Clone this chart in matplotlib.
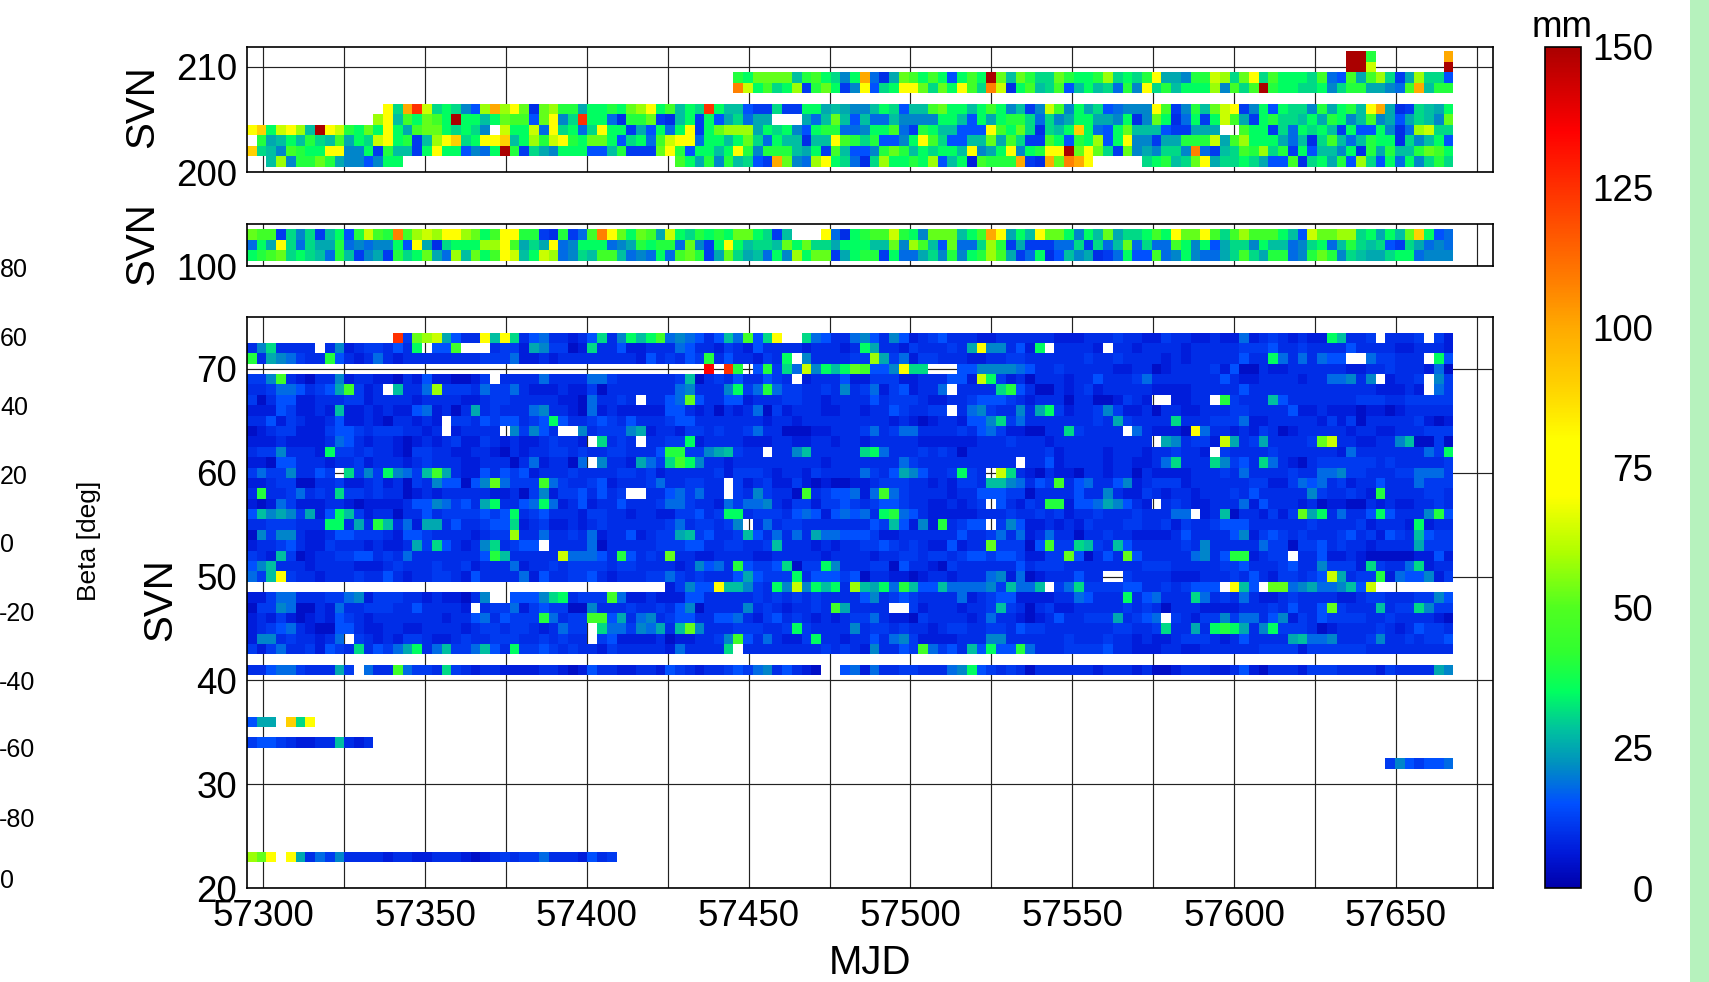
import numpy as np
import matplotlib
matplotlib.use("Agg")
import matplotlib.pyplot as plt
from matplotlib.colors import LinearSegmentedColormap
from matplotlib.patches import Rectangle

plt.rcParams['font.family'] = ['Liberation Sans', 'DejaVu Sans']

W, H = 1709, 982
N_COLS = 124
MJD_START = 57295
MJD_STEP = 3.006

# colour bar
cmap_levels = [0, 6, 15, 22, 28, 35, 42, 50, 60, 70, 80, 90, 100, 108, 125, 135, 150]
cmap_colors = ['#0000aa', '#0018d8', '#0050ff', '#0090c0', '#00c0a0', '#00ff60', '#30ff30',
               '#50ff20', '#b0ff00', '#ffff00', '#ffff00', '#ffd000', '#ffaa00', '#ff8000',
               '#ff3000', '#ff0000', '#aa0000']

# one letter per 3 day cell, value in mm, '.' = no data
code_letters = list("abcdefghijklmnopqrstuvw")
code_values = [4, 7, 9.5, 11.5, 15, 18, 21, 25, 28, 31, 35, 40, 46, 52, 58, 63, 72, 90, 100, 108, 125, 135, 150]

blank = ".......... "

svn_top = [211, 210, 209, 208, 206, 205, 204, 203, 202, 201]
rows_top = [
    blank * 11 + "...wwl.... ...s",
    blank * 11 + "...wwp.... ...w",
    blank * 5 + "lknnnnilmk jgksfchnmk mkekmkwnin ljjnlkkloj kjlqhhgllp ojnqjmkkkj mfemhmojdh ojje",
    blank * 5 + "tpkmjkodln kdgqejkqqn jnkqmjtpck mijmeikijf lgqjlikkko gmjmwlkkjj kgjllhhgfm sill",
    blank + "....qjsupj kjgeosoqnc nollhkklkn oqkmikjuki ieddjddkkh ihggikjeii mnkkikmkgi dgpmgkhjef gggqmdglin pqdgkekjjg lhkliqshcd jihk",
    blank + "...oqimknm kwkkiknmme nqgjukkfcl lndcikdkeh jfhh...hfi nieiffiggg gkkiekhkll jfjghkkhhg kcgnkcfkdk pmhdkljjik hlkgimgheh jign",
    "qrkpqoiwqp lknkqkhmnn kjkjg.pkkp fqjkfjqkkd hekfkqdkno oohkjkgekl lffgkkmfdl kiieeeqmkn jcjikrkfek niiieddhhh ..mkkdjfkj kidkeekgcf opjj",
    ".lhikiljim hkjpqkldio qrjkqqriko lpqlknnkej kfmpqqfkki knjfkiicii qmljleegkq mjeeiinhmj ddmkelkoek qggdhhlllp hmokkkhfic jmifilkkcj gike",
    "rjigmlkkqq ggkdliidkq kkegfkwldj hgkkkeeild ddnqlekkik qlglllihkd mieeglnlik jkkiqghkqg klqqwnqnjd nghgjjgtfd ijmlojldke iigkclhlii lnmk",
    "..iogllnlh ggegkk.... " + blank * 2 + "....mkhlgl ijedsngfoq kjfcjokklk oeikbmllls dcsntsq... ..jklijnqh jjkjheemcj khleojekfk gjlj",
]

svn_mid = [103, 102, 101]
rows_mid = [
    "nmmdjgjdik elpmltmopo qqonkmqqll dcldfmtqnk nmhpkjlklk nnkjdi...q fcklmmplkg nnnikmsqhk iqnnkgkinh jjkmkqnnqm jmommmkiep nnoojkhkin rkef",
    "fkhqjfjhhl fgfggkeqhc jkkkooqmhj hqfgkkkfgh lkllfngdkq kijjinknjj hkkkiingom ienffjoldh dddffjdjfi nfjffmkgke hjjgkiifgj kfiljijedj hfgf",
    "klmnjkjifl idghdljknh foinkmqpik pofgjimmif gfkfmnldhn jhifkgoknn dhklldkffh jglgklomhd fkceighcdf keemfgkgff hjmjhllfgl nlgjihhjkk fggg",
]

svn_low = [73, 72, 71, 70, 69, 68, 67, 66, 65, 64, 63, 62, 61, 60, 59, 58, 57, 56, 55, 54,
           53, 52, 51, 50, 49, 48, 47, 46, 45, 44, 43, 41, 36, 34, 32, 23]
rows_low = [
    blank + ".....udnop heccqiqjce fccbcejcgk ikmfgfecei fmejq..jfe ccfgecgebc decccbbccc cccbbbcccd ccbbdccbbc bbfbcdcbcb bkiccd.ccc d.db",
    "cgjcccc.cg bcddceck.e em...cddbh gddabjcceb bcccfeccbd cbeccccbcc cbckhccbdc ccdchqggce bk.ccccb.c cbccccbccc ccdddeccdc ccceccccbb cccb",
    "lchgfdccle cbcfcbcccc ccccdddfbb cbcccccccc becdcedlce ccbdck.gcc ccddohdfbd dcccbbccdd ccccccdccd ccccbcbccc ccecckfcfc fee..fddcc c.ke",
    blank * 4 + ".......v.u l.eldjfpgk iknmeegqjj ...eeggggf eccdcccccb bccabccccd beaacbbccc cccbbccdcc cbfa",
    "ddgmcbaccg bccbbacbeb baabd.cccc fccccffdcc ccccdiacdc eccedc.bcc cebbdddbbc cceebpkdbc acccbccecc cdfccccccc ecbbccccbc cffgcg.bcc d.gd",
    "ccdffecdeh mdbc.iccfo dddcfddfcb bbcbbdaccc ccccfgcccg kdflfddccd cgcdfbdebc cf.ccccjle caacbcdbcc cccbbbbccc cceccccccc ccccccbbbc b.fd",
    "daceebbccc ddbccccbcc ccbbcddccc ccbbafccdc .ccefnecce ebcccddccb ccccecdddc bbccdeeedc bcccaccaab dcb..bbcc. ldcccieccc ccccdddccd dddd",
    "bbbedbbcbi bbcbcbbefb cachcdcccf gccbafbcbb bbbeecbcac bcfadbcccb bccbccedcc dd.cfgdccg chkdbccdgd bbcaccbbcc cddccccebb cbbbabbabc cccc",
    "ccebdcbbce bbcbaccbcb .ddcedeecd ekeccdedce cccdeecccc cccbccbccc ccccccbcba bccbeegjdf cccccccdch dccccjcccd ddfbbccccc bdbdaccccc dbab",
    "abcddbbbde edcdddccbc .bcccc.gdg ec..gcdddg hbccbddcdc cdfccaaabb cccdfcdffc cccdcefdbb aaccjdcccc .fcbbbaqfc cbcbdcabcc cccbccbbcc cddd",
    "bbbcbbbbcf ecbccbabcb cdbbdcbcbb cdccb.jcdc .ccddkbccc cbbbccbbcc bccbcccccb bbbbbcccdc ccbccccccc ccc.hgcddb phcdhccccd npccbbccgi aada",
    "cddgcccbkd dcdccbaddc cbbccbacbc cddcdccddc ccellddghi dcc.ccgicc cccjkfcccd cdcacccccc ccdbccccbc ccbccdccb. dccccdcccc ccbfcccccc cfdk",
    "bbaeecccbc cdbcccbcdc ccbbcccacf bccaf.gccb hfdjmkgccb cccccccccb cccccccfdc ccccccccc. ccebccccbc cbbcfjcccj gdecjfcbac ddddddcdcc cccd",
    "dfddgcced. jdgdkgfdim hcbbecedeb cccdccccdd cdbcccccdb dddcbccbdc cccfdcehge ccdkdc.pjc bacbbaccbc cacbbbbccc dcfccccdcc ffgddcccdd fffd",
    "bbcddaaccd bbcdbcadcg eeaegnfddd mfdccdebcc cdfccddcc. dbcdbbdbab aabbcdddcc bcbddciigf cedmcefcce gbcdddbccc cccddbbdfe fcdbcceccc fddd",
    "clccdfcdcj ddcdccabcb cccccbbcad gbddececd. .ccefdfcc. dcgdccamcd eefbfmfdcc ccbcceeedd acccceccgc bbdcbccbcc cdcecccccg dccdcblccc cddc",
    "babfdbbbcc babbbbceeg fdechkccef kfbcebccec ccdffdccbf dffgcbddbd dedcdeedcc bbcbcd.ecb dcllbeefhg ecb.cdcbbc ccfbecccbc abbaacbcbb ccdc",
    "eighgdhbek idbccaccec ddddedekcd ecccbddccb ccbbddecdk kcdddcefeb efefcklfec bbbbbcccdc cdcdbccdcc cdcccff.bc iaccbdbdnh kcfccekecc cgle",
    "ccdddccckk chclicfbhh ceccdeejbc dbbcbcdccc cccdfcddcd g.cfcddccc ccccediebg blcdee.dge bbcbcbdccc ddccdbdccd eeeccccccd ccccdbcccb kbcc",
    "agdggcbbce edddcbeedc cccbcddocc fccdcfbcce bcddhidecc diecfcfchf feeedbbccc ccceccdfcf bcfccaccdc cbbbbceccc cegbdedcdc ccdecdbedc iedd",
    "bccdecbbdc ccbcbbchdj ecbcgjcdee .ccccfaccc ccdddeeccd dccdicccbc bccddedcdc bbebccnddd aemddjidci ecccccdcgc ccccfddadd ecdccbcccc hddd",
    "dcbidabccd deecdcfccc cccceliccc ccpfffecle cdcnccbbcc ccbbcccccb ccccbccddc ddcdeedeed bbddneacec necccccfgc ellbcdd.cc ebbcbaaaaa bbeb",
    "egicccbccc cbbbcdcccd ccdbcccfbc cdcddddcdd ccccbcgefc leddejaddk gcccddaecc badcccccce cdddcccccc ccdddccccc ddecccdecc gdddbjdccf jbcc",
    "fdiqdccbcc cdccecbccd dcbeccccfb eccddecbcc cddfdcdccc ehedddkcee edeaccbbab ccbcccfgbf abcccecc.. dccccbbbcc cdcecbddcd ephcddlbfe egbd",
    blank * 4 + "...bdgeeqi igdckgpgki kcoihkflie eiffffgdif fi.dfjdddd eeccdcdeee .qie.nnfgh ffgiep.... ....",
    "bbdffcccdd fgbdddccbc bbacg..eee gjkcdddmfb bcbbbeeccc ccdcdcdcdc cccegcdedc cccfbcdeeb bbbccfeccc kcefcccjfc dcfcbbcdcc ccbbcddccc ddge",
    "addgfaacbf ccdddccecc ccb.cddfbd eddaagcccd ccdcegaccc cgcdcbccdc mhcccc..db cccbccdidc acdbbccccc dcdcacccbb bbcccdcecc endcccicdd jgdd",
    "bcbdbabcbe dcbccccccc bccefceddd lfcddmmehc fgcdeeccee fcbdecdcbc bcddfcbbad ccccbcfccb abceccdddh cdef.dcbdd gdffcegbdc eddddccdcc ccba",
    "bcdefcbaae ecbbccbbcc ccbcddcddc bcfdd.jffd gfhcingccc dddccdkdcc ccgcddcdcc bcddccddce ddcccccccd dccdjcchck lkhcgkdddc abccccdcbc eddc",
    "bggcdccbcf .dcbcbddcb bcdccdddcc dcdcc.debb bbcabbccdg mecfcbbdkc cbccecfgdb bbbcccggcc ccccdcccdc cbcbbcdddc bcecccchif fgcccdgccd cdde",
    "dbdfccdbed cjcedfhkcf iddfieckdd edcdccbdcc cccbfccccj .ccccccccd cdcbgccedm fdeciekeel fcccddddec cbbbccbbcc ccccddddbd dddddccccc cccc",
    "cceffdccch d.fccmfddc jdcbccbbbb ccbabeccbb ccbedcbccd edfgcecba. .efbfccddc ccfgkedcdc accccccbcc cbcaabcccb bcebacccbd ddccccbdcc cchg",
    "ehh.rjq...",
    "deedcbbcci cbc.......",
    blank * 11 + ".......dge deef",
    "onq.qhcfdg ccccbccbbc ccbabcdcdd fcccbecd..",
]

x_ticks = list(range(57300, 57676, 25))
x_labels = [str(t) if (t - 57300) % 50 == 0 else '' for t in x_ticks]
colorbar_ticks = [0, 25, 50, 75, 100, 125, 150]

# stray tick labels of a cut off panel at the left edge, y in pixels
beta_labels = ['80', '60', '40', '20', '0', '-20', '-40', '-60', '-80', '0']
beta_y = [270, 339, 408, 477, 545, 614, 683, 750, 820, 881]


def decode(row):
    out = []
    for group in row.split():
        group = group.ljust(10, group[-1])[:10]
        out.extend(group)
    out = (out + ['.'] * N_COLS)[:N_COLS]
    lookup = dict(zip(code_letters, code_values))
    return [lookup.get(c, np.nan) for c in out]


def make_grid(svns, rows):
    lo, hi = min(svns), max(svns)
    grid = np.full((hi - lo + 1, N_COLS), np.nan)
    for s, r in zip(svns, rows):
        grid[s - lo] = decode(r)
    return np.arange(lo - 0.5, hi + 1), grid


def px_axes(left, top, right, bottom):
    return fig.add_axes([left / W, 1 - bottom / H, (right - left) / W, (bottom - top) / H])


cmap = LinearSegmentedColormap.from_list('svn', [(v / 150, c) for v, c in zip(cmap_levels, cmap_colors)], N=512)
x_edges = MJD_START + MJD_STEP * np.arange(N_COLS + 1)

fig = plt.figure(figsize=(W / 100, H / 100), dpi=100)

panels = [
    (px_axes(247, 47, 1493, 172), svn_top, rows_top, (200, 211.9), [200, 210]),
    (px_axes(247, 224, 1493, 266), svn_mid, rows_mid, (100, 104), [100]),
    (px_axes(247, 317, 1493, 888), svn_low, rows_low, (20, 75.0), [20, 30, 40, 50, 60, 70]),
]

for ax, svns, rows, ylim, yticks in panels:
    y_edges, grid = make_grid(svns, rows)
    mesh = ax.pcolormesh(x_edges, y_edges, np.ma.masked_invalid(grid), cmap=cmap, vmin=0, vmax=150,
                         shading='flat', antialiased=False, zorder=2)
    ax.set_xlim(57295, 57680)
    ax.set_ylim(*ylim)
    ax.set_yticks(yticks)
    ax.set_xticks(x_ticks)
    ax.set_xticklabels(x_labels)
    ax.grid(True, color='#222222', lw=0.85, zorder=1)
    ax.set_axisbelow(True)
    ax.tick_params(length=0, labelsize=26.5, pad=7)
    ax.tick_params(axis='x', pad=8)
    for s in ax.spines.values():
        s.set_linewidth(1.2)
        s.set_zorder(5)

panels[0][0].tick_params(labelbottom=False)
panels[1][0].tick_params(labelbottom=False)

fig.text(142 / W, 1 - 107 / H, 'SVN', rotation=90, fontsize=29, ha='center', va='center')
fig.text(142 / W, 1 - 244 / H, 'SVN', rotation=90, fontsize=29, ha='center', va='center')
fig.text(160 / W, 1 - 600 / H, 'SVN', rotation=90, fontsize=29, ha='center', va='center')
fig.text(870 / W, 1 - 963 / H, 'MJD', fontsize=29, ha='center', va='center')

# colour bar
cax = px_axes(1545, 47, 1581, 888)
cb = fig.colorbar(mesh, cax=cax, ticks=colorbar_ticks)
cb.outline.set_linewidth(1.2)
cax.tick_params(length=0, labelsize=26.5, pad=52)
for lab in cax.get_yticklabels():
    lab.set_ha('right')
fig.text(1562 / W, 1 - 37 / H, 'mm', fontsize=26.5, ha='center', va='baseline')

# stray beta labels and axis title
for lab, y in zip(beta_labels, beta_y):
    x = -1 if lab.startswith('-') else 0
    fig.text(x / W, 1 - y / H, lab, fontsize=18, ha='left', va='center')
fig.text(89 / W, 1 - 541 / H, 'Beta [deg]', rotation=90, fontsize=19, ha='center', va='center')

# green strip at the right edge
fig.add_artist(Rectangle((1690 / W, 0), 19 / W, 1, transform=fig.transFigure, color='#b6f2bd', lw=0))

fig.savefig('out.png', dpi=100)
